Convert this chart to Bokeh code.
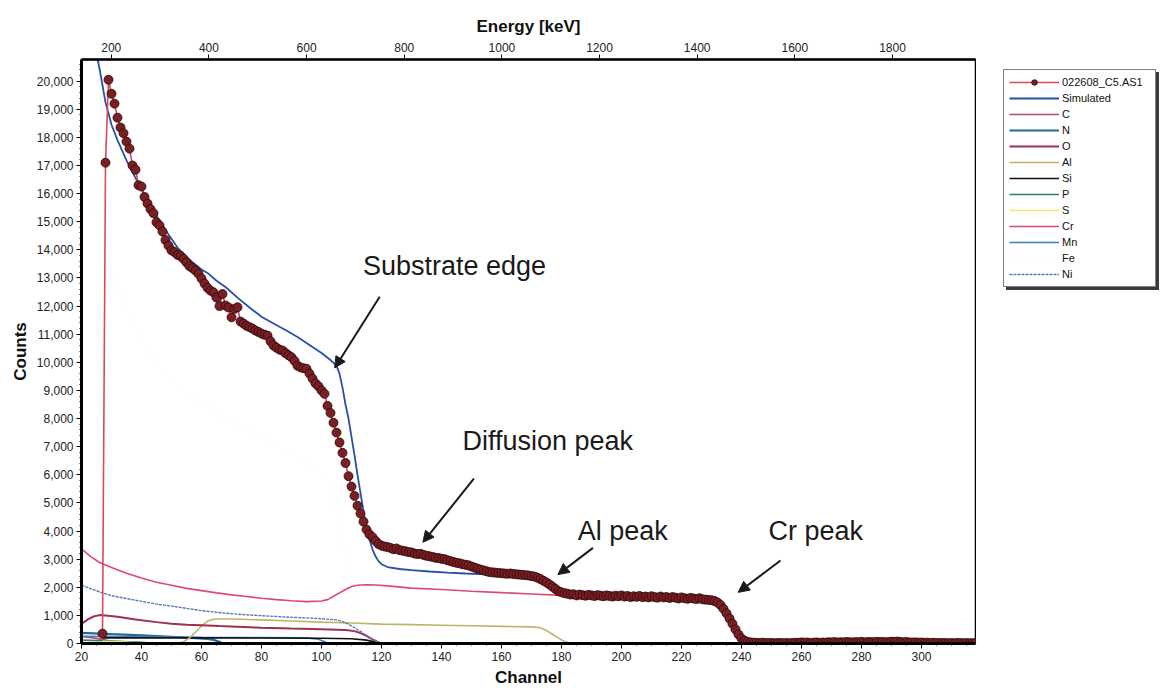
from bokeh.plotting import figure
from bokeh.layouts import row
from bokeh.models import (Range1d, LinearAxis, SingleIntervalTicker, NumeralTickFormatter,
                          Legend, LegendItem, Label, Arrow, NormalHead)
from bokeh.embed import file_html
from bokeh.resources import INLINE

FONT = "Liberation Sans"

# ---------------- data ----------------
channel_range = [20, 318]
count_range = [0, 20770]
energy_range = [139, 1970]   # keV, top axis (matching the channel range)

meas_start = 27
meas_counts = [
    350, 17100, 20050, 19550, 19200, 18700, 18350, 18150, 17850, 17600,
    17000, 16850, 16300, 16250, 15880, 15650, 15450, 15300, 14980, 14870,
    14650, 14350, 14150, 13980, 13920, 13820, 13780, 13680, 13550, 13420,
    13350, 13260, 13150, 12980, 12800, 12650, 12550, 12490, 12300, 12000,
    12430, 12020, 11950, 11600, 11900, 11960, 11450, 11380, 11300, 11250,
    11200, 11130, 11080, 11020, 10980, 10950, 10750, 10600, 10520, 10450,
    10420, 10330, 10250, 10180, 10050, 9880, 9820, 9790, 9770, 9600,
    9420, 9250, 9150, 9000, 8880, 8450, 8200, 7850, 7500, 7150,
    6780, 6420, 5950, 5580, 5250, 4900, 4620, 4330, 4050, 3880,
    3780, 3650, 3540, 3480, 3450, 3430, 3400, 3350, 3380, 3320,
    3300, 3280, 3250, 3240, 3200, 3180, 3190, 3150, 3120, 3100,
    3080, 3050, 3040, 3010, 3000, 2960, 2930, 2900, 2870, 2850,
    2820, 2800, 2780, 2740, 2700, 2660, 2630, 2600, 2570, 2540,
    2530, 2520, 2510, 2500, 2490, 2480, 2490, 2470, 2460, 2450,
    2440, 2430, 2420, 2400, 2380, 2340, 2290, 2230, 2170, 2100,
    2020, 1940, 1860, 1820, 1790, 1770, 1740, 1750, 1710, 1740,
    1720, 1700, 1730, 1710, 1690, 1720, 1700, 1680, 1710, 1690,
    1670, 1700, 1680, 1710, 1670, 1690, 1650, 1680, 1660, 1690,
    1650, 1670, 1640, 1680, 1650, 1630, 1670, 1640, 1650, 1620,
    1650, 1630, 1600, 1640, 1610, 1590, 1620, 1600, 1580, 1610,
    1570, 1560, 1550, 1540, 1510, 1460, 1370, 1230, 1070, 890,
    700, 500, 320, 180, 100, 60, 40, 30, 25, 20,
    30, 20, 15, 20, 10, 15, 20, 10, 15, 10,
    20, 30, 25, 40, 30, 35, 20, 30, 40, 25,
    35, 30, 45, 40, 50, 35, 45, 40, 55, 45,
    40, 50, 45, 60, 40, 55, 50, 45, 60, 50,
    55, 45, 50, 65, 60, 70, 55, 45, 50, 40,
    35, 40, 30, 35, 25, 30, 20, 25, 20, 15,
    20, 15, 10, 15, 10, 20, 15, 10, 15, 10,
    10, 15,
]
meas_ch = list(range(meas_start, meas_start + len(meas_counts)))

sim_ch = [20, 22, 24, 26, 28, 30, 32, 35, 38, 40, 43, 46, 49, 52, 55, 57, 60, 62, 65, 68,
          72, 76, 80, 84, 88, 92, 96, 100, 103, 105, 106, 107, 108, 109, 110, 111, 112, 113,
          114, 115, 116, 117, 118, 119, 120, 122, 126, 130, 136, 142, 148, 153, 158, 163,
          168, 172, 175, 177, 179, 181, 184, 190, 200, 210, 220, 228, 231, 233, 235, 237,
          239, 241, 243, 246, 250, 318]
sim_counts = [23600, 22600, 21500, 20450, 19250, 18450, 17900, 17180, 16550, 16150, 15550,
              15040, 14550, 14080, 13750, 13560, 13300, 13180, 12900, 12680, 12300, 11950,
              11620, 11380, 11150, 10900, 10620, 10330, 10080, 9880, 9600, 9100, 8500, 8000,
              7350, 6700, 6000, 5350, 4700, 4150, 3700, 3350, 3100, 2930, 2820, 2720, 2650,
              2610, 2560, 2520, 2490, 2470, 2450, 2420, 2380, 2320, 2220, 2080, 1880, 1760,
              1700, 1680, 1660, 1640, 1610, 1580, 1550, 1450, 1130, 740, 380, 150, 50, 10,
              0, 0]

c_ch = [20, 24, 28, 32, 36]
c_counts = [250, 200, 120, 40, 0]

n_ch = [20, 30, 40, 50, 58, 62, 64, 66, 67]
n_counts = [380, 330, 290, 240, 190, 160, 130, 60, 0]

o_ch = [20, 22, 24, 26, 28, 32, 38, 45, 50, 55, 60, 66, 72, 80, 90, 100, 108, 111, 113,
        115, 117, 119, 120]
o_counts = [700, 850, 960, 1010, 1000, 950, 850, 760, 700, 670, 650, 620, 600, 560, 530,
            510, 480, 440, 370, 270, 150, 40, 0]

al_ch = [52, 54, 56, 58, 60, 62, 64, 66, 70, 80, 90, 100, 110, 120, 130, 140, 150, 160,
         170, 173, 175, 177, 179, 181, 183]
al_counts = [0, 60, 200, 400, 620, 800, 860, 870, 870, 840, 800, 760, 730, 690, 670, 650,
             630, 610, 590, 560, 460, 330, 190, 70, 0]

si_ch = [27, 40, 60, 80, 100, 110, 115, 118, 120]
si_counts = [200, 200, 205, 195, 185, 170, 120, 50, 0]

p_ch = [20, 30, 40, 45]
p_counts = [120, 90, 40, 0]

s_ch = [27, 30, 35, 40]
s_counts = [80, 70, 50, 0]

cr_ch = [20, 23, 26, 30, 35, 40, 45, 50, 55, 60, 65, 70, 75, 80, 85, 90, 95, 100, 102,
         104, 106, 108, 110, 112, 115, 118, 122, 130, 140, 150, 160, 170, 180, 190, 200,
         210, 220, 228, 231, 233, 235, 237, 239, 241, 244, 318]
cr_counts = [3370, 3100, 2880, 2700, 2500, 2330, 2180, 2070, 1960, 1880, 1800, 1730, 1670,
             1610, 1560, 1520, 1490, 1510, 1560, 1680, 1800, 1920, 2030, 2070, 2090, 2080,
             2050, 1970, 1920, 1860, 1810, 1760, 1710, 1680, 1660, 1640, 1620, 1590, 1560,
             1460, 1130, 740, 380, 150, 20, 0]

mn_ch = [20, 40, 60, 80, 95, 99, 101, 102]
mn_counts = [260, 240, 220, 210, 200, 150, 60, 0]

fe_ch = [20, 25, 30, 35, 40, 45, 50, 55, 60, 65, 70, 75, 80, 85, 90, 95, 100, 103, 106,
         108, 110, 112, 114, 116, 118]
fe_counts = [17500, 15200, 13300, 12000, 10900, 10000, 9300, 8900, 8600, 8200, 7900, 7600,
             7300, 7000, 6700, 6400, 6100, 5800, 4500, 3200, 1800, 800, 300, 100, 0]

ni_ch = [20, 27, 30, 35, 40, 45, 50, 55, 60, 65, 70, 75, 80, 85, 90, 95, 100, 105, 107,
         109, 111, 113, 115, 117, 119, 120]
ni_counts = [2070, 1800, 1700, 1600, 1500, 1400, 1330, 1250, 1170, 1110, 1060, 1020, 990,
             960, 930, 910, 880, 840, 780, 690, 560, 430, 290, 160, 50, 0]

# annotations (data coordinates: channel, counts)
anno_text = ["Substrate edge", "Diffusion peak", "Al peak", "Cr peak"]
anno_x = [113.8, 147.0, 185.4, 249.0]
anno_y = [13440, 7210, 4010, 4010]
arrow_x0 = [119.4, 150.8, 190.5, 253.0]
arrow_y0 = [12330, 5860, 3400, 2950]
arrow_x1 = [104.4, 133.8, 178.8, 238.9]
arrow_y1 = [9800, 3600, 2450, 1820]

# series: (legend label, x, y, style)
series = [
    ("Fe", fe_ch, fe_counts, dict(line_color="#ececec", line_width=1.0, line_dash="1 5")),
    ("C", c_ch, c_counts, dict(line_color="#b84a6e", line_width=1.6)),
    ("N", n_ch, n_counts, dict(line_color="#1f6a96", line_width=2.2)),
    ("P", p_ch, p_counts, dict(line_color="#2f7f72", line_width=1.6)),
    ("S", s_ch, s_counts, dict(line_color="#ecec6a", line_width=1.6)),
    ("Mn", mn_ch, mn_counts, dict(line_color="#3d7cc0", line_width=1.6)),
    ("Si", si_ch, si_counts, dict(line_color="#111111", line_width=1.6)),
    ("Al", al_ch, al_counts, dict(line_color="#bdb46a", line_width=1.6)),
    ("O", o_ch, o_counts, dict(line_color="#a0304c", line_width=2.0)),
    ("Ni", ni_ch, ni_counts, dict(line_color="#5a78b8", line_width=1.4, line_dash="3 1")),
    ("Cr", cr_ch, cr_counts, dict(line_color="#dc4a73", line_width=1.6)),
    ("Simulated", sim_ch, sim_counts, dict(line_color="#2a4fa8", line_width=1.8)),
    ("022608_C5.AS1", meas_ch, meas_counts, dict(line_color="#d9485e", line_width=1.6)),
]
marker_style = dict(marker="circle", size=9, fill_color="#7a1f24",
                    line_color="#2b0808", line_width=0.8)
legend_order = ["022608_C5.AS1", "Simulated", "C", "N", "O", "Al", "Si", "P", "S",
                "Cr", "Mn", "Fe", "Ni"]

# ---------------- main figure ----------------
p = figure(width=976, height=694, output_backend="svg", toolbar_location=None,
           x_range=Range1d(*channel_range), y_range=Range1d(*count_range),
           min_border_left=81, min_border_right=1, min_border_top=59,
           min_border_bottom=51, background_fill_color="white",
           border_fill_color="white")
p.xgrid.visible = False
p.ygrid.visible = False
p.outline_line_color = "black"
p.outline_line_width = 1.5

xa = p.xaxis[0]
xa.ticker = SingleIntervalTicker(interval=20, num_minor_ticks=4)
xa.axis_label = "Channel"
ya = p.yaxis[0]
ya.ticker = SingleIntervalTicker(interval=1000, num_minor_ticks=5)
ya.formatter = NumeralTickFormatter(format="0,0")
ya.axis_label = "Counts"

top = LinearAxis(x_range_name="energy", axis_label="Energy [keV]",
                 ticker=SingleIntervalTicker(interval=200, num_minor_ticks=2))
p.extra_x_ranges = {"energy": Range1d(*energy_range)}
p.add_layout(top, "above")

for ax in [xa, ya, top]:
    ax.axis_line_color = "black"
    ax.axis_line_width = 3
    ax.major_tick_line_color = "black"
    ax.major_tick_line_width = 1
    ax.major_tick_out = 5
    ax.major_tick_in = 0
    ax.minor_tick_line_color = "black"
    ax.minor_tick_out = 2
    ax.minor_tick_in = 0
    ax.major_label_text_font = FONT
    ax.major_label_text_font_size = "12px"
    ax.major_label_text_color = "#222222"
    ax.major_label_standoff = 3
    ax.axis_label_text_font = FONT
    ax.axis_label_text_font_style = "bold"
    ax.axis_label_text_font_size = "17px"
    ax.axis_label_text_color = "#111111"
    ax.axis_label_standoff = 4
top.minor_tick_line_color = None
top.axis_line_width = 2.5

for name, xs, ys, st in series:
    p.line(xs, ys, **st)
p.scatter(meas_ch, meas_counts, **marker_style)

for t, x, y in zip(anno_text, anno_x, anno_y):
    p.add_layout(Label(x=x, y=y, text=t, text_font=FONT, text_font_size="27px",
                       text_baseline="middle", text_align="left", text_color="#1a1a1a"))
for x0, y0, x1, y1 in zip(arrow_x0, arrow_y0, arrow_x1, arrow_y1):
    p.add_layout(Arrow(x_start=x0, y_start=y0, x_end=x1, y_end=y1, line_width=2,
                       line_color="#1a1a1a",
                       end=NormalHead(size=11, fill_color="#1a1a1a", line_color="#1a1a1a")))

# ---------------- legend panel (same series, out of its view) ----------------
lf = figure(width=184, height=694, output_backend="svg", toolbar_location=None,
            x_range=Range1d(0, 1), y_range=Range1d(0, 1),
            min_border=0, outline_line_color=None, background_fill_color="white",
            border_fill_color="white")
lf.axis.visible = False
lf.grid.visible = False
lr = {}
for name, xs, ys, st in series:
    lr[name] = [lf.line(xs, ys, **st)]
lr["022608_C5.AS1"].append(lf.scatter(meas_ch, meas_counts, **marker_style))

common = dict(label_text_font=FONT, label_text_font_size="11px",
              glyph_width=50, glyph_height=14, label_height=14, label_width=88,
              spacing=2, padding=5, margin=0, label_standoff=3, border_line_width=1.5,
              background_fill_alpha=1.0)
# drop shadow: same box size, offset 3 px, blank labels
shadow = Legend(items=[LegendItem(label=" ", renderers=lr[n]) for n in legend_order],
                location=(30, 353), label_text_color="#3a3a3a",
                border_line_color="#3a3a3a", background_fill_color="#3a3a3a", **common)
lf.add_layout(shadow)
legend = Legend(items=[LegendItem(label=n, renderers=lr[n]) for n in legend_order],
                location=(27, 356), label_text_color="#111111",
                border_line_color="black", background_fill_color="white", **common)
lf.add_layout(legend)

layout = row(p, lf, spacing=0)
open("out.html", "w").write(file_html(layout, INLINE))
